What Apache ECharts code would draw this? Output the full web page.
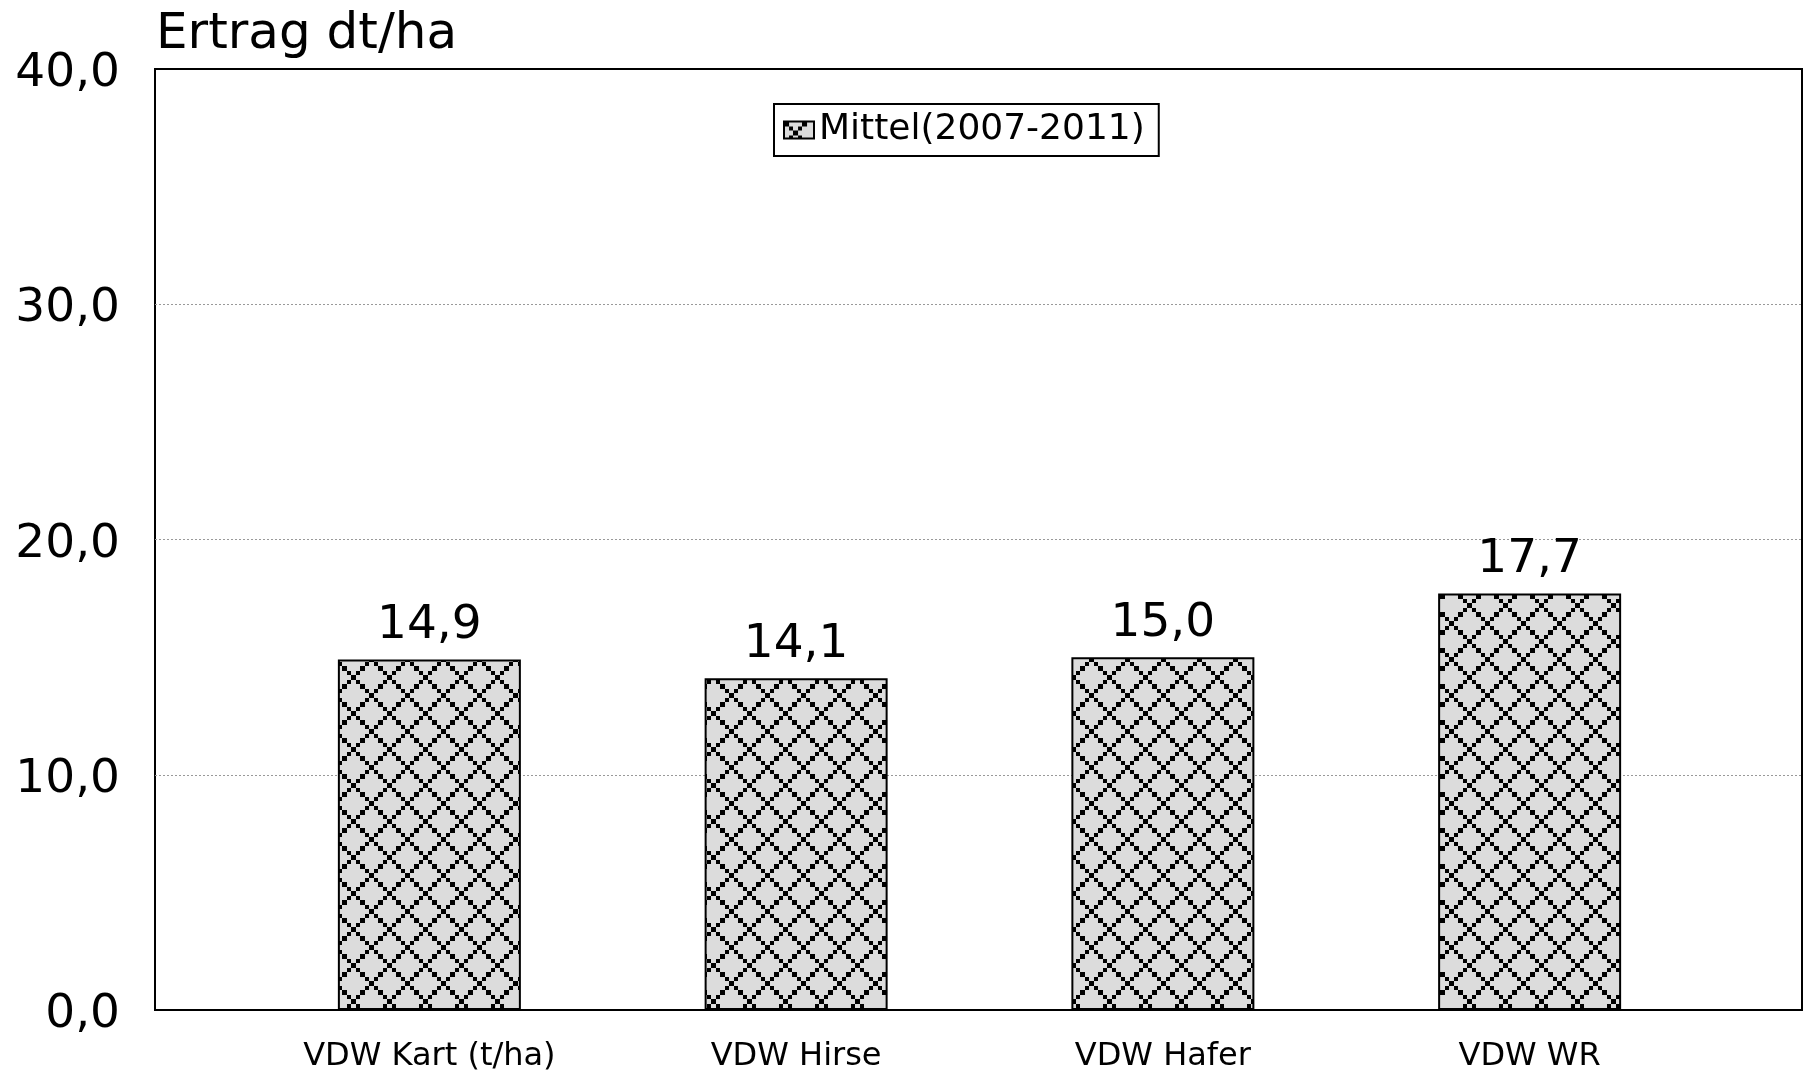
<!DOCTYPE html>
<html>
<head>
<meta charset="utf-8">
<script src="https://cdn.jsdelivr.net/npm/echarts@6/dist/echarts.min.js"></script>
<style>
html,body{margin:0;padding:0;background:#fff;}
#chart{width:1808px;height:1071px;}
</style>
</head>
<body>
<div id="chart"></div>
<script>
const categories = ['VDW Kart (t/ha)', 'VDW Hirse', 'VDW Hafer', 'VDW WR'];
const values = [14.9, 14.1, 15.0, 17.7];
const seriesName = 'Mittel(2007-2011)';
const yTicks = [0, 10, 20, 30, 40];
const titleText = 'Ertrag dt/ha';

function makePattern() {
  const n = 8, b = 4.5, P = 36;
  const c = document.createElement('canvas');
  c.width = P; c.height = P;
  const ctx = c.getContext('2d');
  ctx.fillStyle = '#dcdcdc';
  ctx.fillRect(0, 0, P, P);
  ctx.fillStyle = '#000';
  const pos = k => Math.round(k * b);
  function blk(i, j) {
    i = ((i % n) + n) % n; j = ((j % n) + n) % n;
    ctx.fillRect(pos(i), pos(j), pos(i + 1) - pos(i), pos(j + 1) - pos(j));
  }
  for (let i = 0; i < n; i++) {
    blk(i, i);
    blk(i, 4 - i + n);
  }
  return c;
}
const pattern = { image: makePattern(), repeat: 'repeat' };
const fmt = v => v.toFixed(1).replace('.', ',');
const FONT = 'DejaVu Sans';

const chart = echarts.init(document.getElementById('chart'), null, { renderer: 'canvas' });
chart.setOption({
  animation: false,
  backgroundColor: '#fff',
  title: {
    text: titleText, left: 156, top: 10, padding: 0,
    textStyle: { fontFamily: FONT, fontSize: 50, fontWeight: 'normal', color: '#000' }
  },
  legend: {
    left: 774, top: 104,
    padding: [8, 14, 8, 9],
    borderColor: '#000', borderWidth: 2, backgroundColor: '#fff',
    icon: 'rect', itemWidth: 30, itemHeight: 17,
    textStyle: { fontFamily: FONT, fontSize: 36, color: '#000' },
    data: [seriesName]
  },
  grid: [
    { left: 155, top: 69, width: 1647, height: 941, outerBoundsMode: 'none', containLabel: false, show: true, borderColor: '#000', borderWidth: 2, backgroundColor: 'transparent' },
    { left: 246, top: 69, width: 1467, height: 941, outerBoundsMode: 'none', containLabel: false }
  ],
  xAxis: [
    { gridIndex: 0, type: 'value', show: false, min: 0, max: 1 },
    {
      gridIndex: 1, type: 'category', data: categories,
      axisLine: { show: false }, axisTick: { show: false },
      axisLabel: { fontFamily: FONT, fontSize: 32, color: '#000', margin: 31, interval: 0 }
    }
  ],
  yAxis: [
    {
      gridIndex: 0, type: 'value', min: yTicks[0], max: yTicks[yTicks.length - 1], interval: 10,
      axisLine: { show: false }, axisTick: { show: false },
      axisLabel: { fontFamily: FONT, fontSize: 47, color: '#000', margin: 35, verticalAlign: 'top', lineHeight: 10, formatter: fmt },
      splitLine: { show: true, showMinLine: false, showMaxLine: false, lineStyle: { color: '#999', width: 1, type: [2, 2] } }
    },
    { gridIndex: 1, type: 'value', min: 0, max: 40, show: false }
  ],
  series: [{
    name: seriesName, type: 'bar', xAxisIndex: 1, yAxisIndex: 1,
    data: values, barWidth: 183,
    itemStyle: { color: pattern, borderColor: '#000', borderWidth: 2 },
    label: {
      show: true, position: 'top', distance: 10,
      fontFamily: FONT, fontSize: 47, color: '#000',
      formatter: p => fmt(p.value)
    }
  }]
});
</script>
</body>
</html>
